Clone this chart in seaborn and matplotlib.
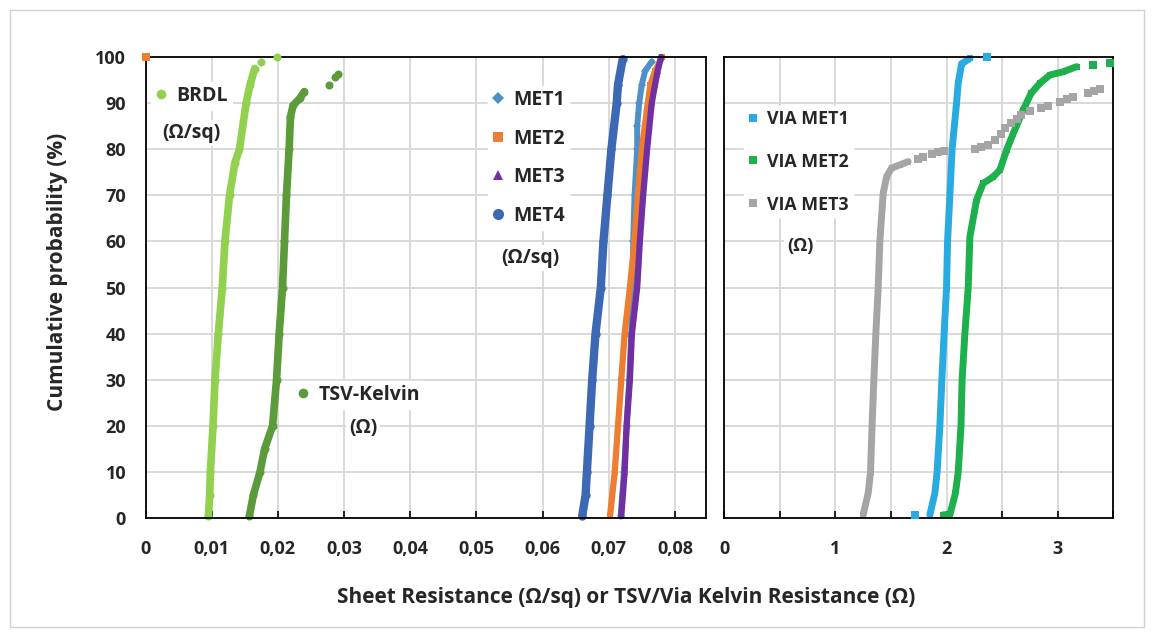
import matplotlib
matplotlib.use('Agg')
import matplotlib.pyplot as plt
from matplotlib.lines import Line2D
from matplotlib.patches import Rectangle
import seaborn as sns

# --- data (x value, cumulative probability %) ---
brdl_x = [0.0095, 0.0097, 0.0098, 0.0102, 0.0105, 0.0110, 0.0116, 0.0120, 0.0127, 0.0135, 0.0142, 0.0152, 0.0158, 0.0165]
brdl_p = [0.5, 5, 10, 20, 30, 40, 50, 60, 70, 77, 80, 90, 94, 97.5]
brdl_tail_x = [0.0174, 0.0198]
brdl_tail_p = [98.9, 100]

tsv_x = [0.0157, 0.0163, 0.0173, 0.0180, 0.0192, 0.0198, 0.0202, 0.0207, 0.0210, 0.0213, 0.0217, 0.0219, 0.0223, 0.0233, 0.0240]
tsv_p = [0.5, 5, 10, 15, 20, 30, 40, 50, 60, 70, 80, 87, 89.5, 91, 92.5]
tsv_tail_x = [0.0278, 0.0286, 0.0291]
tsv_tail_p = [94, 95.6, 96.3]

met1_x = [0.0718, 0.0723, 0.0727, 0.0731, 0.0734, 0.0736, 0.0737, 0.0739, 0.0743, 0.0743, 0.0746, 0.0750, 0.0755, 0.0765]
met1_p = [0.5, 10, 20, 30, 40, 50, 60, 70, 80, 85, 90, 94, 97, 99]
met2_x = [0.0702, 0.0709, 0.0714, 0.0719, 0.0724, 0.0732, 0.0739, 0.0744, 0.0750, 0.0759, 0.0763, 0.0770, 0.0781]
met2_p = [0.5, 10, 20, 30, 40, 50, 60, 70, 80, 90, 94, 97, 100]
met2_outlier_x = [0.0]
met2_outlier_p = [100]
met3_x = [0.0719, 0.0724, 0.0727, 0.0732, 0.0735, 0.0743, 0.0747, 0.0752, 0.0758, 0.0765, 0.0770, 0.0774, 0.0779]
met3_p = [0.5, 10, 20, 30, 40, 50, 60, 70, 80, 90, 94, 97, 100]
met4_x = [0.0660, 0.0665, 0.0667, 0.0671, 0.0675, 0.0680, 0.0688, 0.0692, 0.0698, 0.0704, 0.0712, 0.0714, 0.0721]
met4_p = [0.5, 5, 10, 20, 30, 40, 50, 60, 70, 80, 90, 94, 99.5]

via1_x = [1.85, 1.895, 1.915, 1.94, 1.958, 1.978, 2.0, 2.009, 2.03, 2.05, 2.09, 2.105, 2.135, 2.21]
via1_p = [0.7, 5.4, 10, 20, 30, 40, 50, 60, 70, 80, 90, 94.3, 98.5, 99.7]
via1_tail_x = [1.72, 2.36]
via1_tail_p = [0.7, 100]

via2_x = [1.97, 2.03, 2.08, 2.105, 2.13, 2.14, 2.165, 2.195, 2.21, 2.27, 2.33, 2.42, 2.48, 2.54, 2.60, 2.69, 2.76, 2.84, 2.93, 3.05, 3.17]
via2_p = [0.7, 0.7, 5.4, 10, 20, 30, 40, 50, 61, 69, 72.6, 74, 75.5, 79.8, 83.4, 88.5, 92.1, 94.3, 96.1, 96.8, 97.9]
via2_tail_x = [3.32, 3.47]
via2_tail_p = [98.3, 98.8]

via3_x = [1.25, 1.295, 1.316, 1.33, 1.346, 1.364, 1.385, 1.40, 1.43, 1.46, 1.505, 1.58, 1.655]
via3_p = [0.7, 5.4, 10, 20, 30, 40, 50, 60, 70.4, 74, 75.9, 76.6, 77.3]
via3_tail_x = [1.74, 1.79, 1.87, 1.92, 1.98, 2.26, 2.31, 2.37, 2.44, 2.49, 2.53, 2.58, 2.63, 2.67,
               2.75, 2.85, 2.91, 3.02, 3.08, 3.14, 3.27, 3.33, 3.38]
via3_tail_p = [77.9, 78.2, 78.9, 79.3, 79.7, 80.1, 80.4, 81.0, 82.0, 83.3, 84.6, 85.6, 86.6, 87.4,
               88.2, 88.9, 89.4, 90.3, 90.9, 91.4, 92.1, 92.6, 93.1]

left_ticks = [0, 0.01, 0.02, 0.03, 0.04, 0.05, 0.06, 0.07, 0.08]
left_tick_labels = ['0', '0,01', '0,02', '0,03', '0,04', '0,05', '0,06', '0,07', '0,08']
right_ticks = [0, 0.5, 1, 1.5, 2, 2.5, 3, 3.5]
right_tick_labels = ['0', '', '1', '', '2', '', '3', '']
y_ticks = [0, 10, 20, 30, 40, 50, 60, 70, 80, 90, 100]

C_BRDL, C_TSV = '#92D050', '#5B9B3A'
C_MET1, C_MET2, C_MET3, C_MET4 = '#4E91C8', '#ED7D31', '#7030A0', '#3D68B3'
C_VIA1, C_VIA2, C_VIA3 = '#29ABE2', '#1EB04C', '#A5A5A5'


def cdf(ax, x, p, color, marker, size, lw):
    sns.lineplot(x=x, y=p, ax=ax, color=color, marker=marker, markersize=size,
                 markeredgewidth=0, linewidth=lw, sort=False, estimator=None, clip_on=False)


def dots(ax, x, p, color, marker, size):
    sns.scatterplot(x=x, y=p, ax=ax, color=color, marker=marker, s=size ** 2,
                    linewidth=0, clip_on=False, zorder=3)


def add_legend(ax, entries, anchor, fontsize, spacing):
    handles = [Line2D([], [], linestyle='none', marker=m, color=c, markersize=ms, markeredgewidth=0)
               for _, c, m, ms in entries]
    labels = [e[0] for e in entries]
    leg = ax.legend(handles, labels, loc='center left', bbox_to_anchor=anchor, borderaxespad=0,
                    frameon=True, framealpha=1, facecolor='white', edgecolor='white', fancybox=False,
                    borderpad=0.2, handlelength=0.6, handletextpad=0.5, labelspacing=spacing,
                    prop={'weight': 'bold', 'size': fontsize})
    ax.add_artist(leg)


def unit_text(ax, fx, fy, txt, fontsize):
    ax.text(fx, fy, txt, transform=ax.transAxes, ha='center', va='center', fontsize=fontsize,
            fontweight='bold', bbox=dict(facecolor='white', edgecolor='none', pad=2), zorder=5)


sns.set_theme(style='white')
plt.rcParams['font.family'] = ['Open Sans', 'DejaVu Sans']
plt.rcParams['font.weight'] = 'bold'

fig = plt.figure(figsize=(11.54, 6.36), dpi=100)
ax1 = fig.add_axes([0.1261, 0.1855, 0.4857, 0.7249])
ax2 = fig.add_axes([0.6276, 0.1855, 0.3371, 0.7249])

# left panel: sheet resistances and TSV
cdf(ax1, brdl_x, brdl_p, C_BRDL, 'o', 5.8, 5.5)
dots(ax1, brdl_tail_x, brdl_tail_p, C_BRDL, 'o', 5.8)
cdf(ax1, tsv_x, tsv_p, C_TSV, 'o', 5.8, 5.5)
dots(ax1, tsv_tail_x, tsv_tail_p, C_TSV, 'o', 5.8)
cdf(ax1, met1_x, met1_p, C_MET1, 'D', 4.0, 4.3)
cdf(ax1, met2_x, met2_p, C_MET2, 's', 4.5, 4.5)
dots(ax1, met2_outlier_x, met2_outlier_p, C_MET2, 's', 5.5)
cdf(ax1, met3_x, met3_p, C_MET3, '^', 4.5, 4.5)
cdf(ax1, met4_x, met4_p, C_MET4, 'o', 6.0, 6.0)

# right panel: via kelvin
cdf(ax2, via1_x, via1_p, C_VIA1, 's', 5.0, 5.0)
dots(ax2, via1_tail_x, via1_tail_p, C_VIA1, 's', 5.5)
cdf(ax2, via2_x, via2_p, C_VIA2, 's', 5.0, 5.0)
dots(ax2, via2_tail_x, via2_tail_p, C_VIA2, 's', 5.5)
cdf(ax2, via3_x, via3_p, C_VIA3, 's', 5.0, 5.0)
dots(ax2, via3_tail_x, via3_tail_p, C_VIA3, 's', 5.5)

for ax in (ax1, ax2):
    ax.set_ylim(0, 100)
    ax.set_yticks(y_ticks)
    ax.grid(True, color='#D9D9D9', linewidth=1.4)
    ax.set_axisbelow(True)
    ax.set_xlabel('')
    ax.set_ylabel('')
    for s in ax.spines.values():
        s.set_visible(True)
        s.set_color('black')
        s.set_linewidth(1.3)
    ax.tick_params(axis='x', direction='in', length=5, width=1.2, color='black', pad=16,
                   labelsize=13, bottom=True)
    ax.tick_params(axis='y', length=0, pad=14, labelsize=13)

ax1.set_xlim(0, 0.0847)
ax1.set_xticks(left_ticks)
ax1.set_xticklabels(left_tick_labels)
ax2.set_xlim(0, 3.5)
ax2.set_xticks(right_ticks)
ax2.set_xticklabels(right_tick_labels)
ax2.tick_params(axis='y', labelleft=False)

# legends and unit notes
add_legend(ax1, [('BRDL', C_BRDL, 'o', 7)], (0.0103, 0.915), 14, 0.7)
unit_text(ax1, 0.081, 0.835, '(Ω/sq)', 14)
add_legend(ax1, [('TSV-Kelvin', C_TSV, 'o', 7)], (0.2638, 0.267), 14, 0.7)
unit_text(ax1, 0.388, 0.195, '(Ω)', 14)
add_legend(ax1, [('MET1', C_MET1, 'D', 6), ('MET2', C_MET2, 's', 7),
                 ('MET3', C_MET3, '^', 7), ('MET4', C_MET4, 'o', 8)],
           (0.6112, 0.781), 14, 0.95)
unit_text(ax1, 0.686, 0.564, '(Ω/sq)', 14)
add_legend(ax2, [('VIA MET1', C_VIA1, 's', 6), ('VIA MET2', C_VIA2, 's', 6),
                 ('VIA MET3', C_VIA3, 's', 6)], (0.0517, 0.773), 12.8, 1.4)
unit_text(ax2, 0.195, 0.589, '(Ω)', 13)

fig.text(57 / 1154, 1 - 272 / 636, 'Cumulative probability (%)', rotation=90, ha='center', va='center',
         fontsize=15, fontweight='bold')
fig.text(626 / 1154, 1 - 598 / 636, 'Sheet Resistance (Ω/sq) or TSV/Via Kelvin Resistance (Ω)',
         ha='center', va='center', fontsize=15, fontweight='bold')

fig.patches.append(Rectangle((10 / 1154, 1 - 627 / 636), 1134 / 1154, 617 / 636, transform=fig.transFigure,
                             fill=False, edgecolor='#D0D0D0', linewidth=1))

fig.savefig('out.png', dpi=100)
